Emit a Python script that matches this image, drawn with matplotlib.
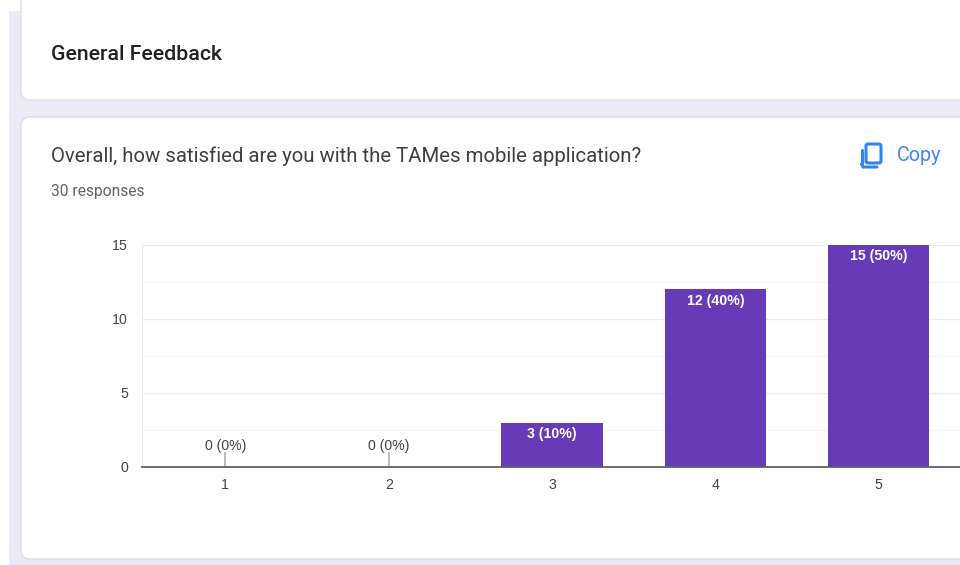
import matplotlib
matplotlib.use('Agg')
import matplotlib.pyplot as plt
from matplotlib.patches import FancyBboxPatch, Rectangle

categories = ['1', '2', '3', '4', '5']
counts = [0, 0, 3, 12, 15]
percents = [0, 0, 10, 40, 50]
yticks = [0, 5, 10, 15]
yticks_minor = [2.5, 7.5, 12.5]

W, H = 960, 565
PAGE = '#ede9f6'
BORDER = '#dfdde8'
PURPLE = '#673ab7'
CHART_FONT = ['Liberation Sans', 'DejaVu Sans']

plt.rcParams['font.family'] = ['Roboto', 'DejaVu Sans']

fig = plt.figure(figsize=(W / 100, H / 100), dpi=100, facecolor='white')

# page layer, in pixels from the top left
bg = fig.add_axes([0, 0, 1, 1], zorder=0)
bg.set_xlim(0, W)
bg.set_ylim(H, 0)
bg.axis('off')
bg.add_patch(Rectangle((9, 11), W - 9, H - 11, fc=PAGE, ec='none'))


def card(y0, y1):
    bg.add_patch(FancyBboxPatch((21, y0), W + 40, y1 - y0,
                                boxstyle='round,pad=0,rounding_size=9',
                                fc='white', ec=BORDER, lw=1))


card(-20, 100)
card(117, 559)

fig.text(51 / W, 1 - 54.5 / H, 'General Feedback', fontsize=15.3, color='#202124',
         fontweight='medium', va='center')
fig.text(51 / W, 1 - 156.5 / H, 'Overall, how satisfied are you with the TAMes mobile application?',
         fontsize=14.68, color='#3c4043', va='center')
fig.text(51 / W, 1 - 191.5 / H, '30 responses', fontsize=11.2, color='#5f6368', va='center')
fig.text(897 / W, 1 - 156 / H, 'Copy', fontsize=14.2, color='#4285f4', va='center')

# copy icon
BLUE = '#2f86f0'
bg.add_patch(FancyBboxPatch((866, 144), 15, 19, boxstyle='round,pad=0,rounding_size=2',
                            fc='white', ec=BLUE, lw=2.2, zorder=3))
bg.plot([861.5, 861.5], [150, 164], color=BLUE, lw=2.2, solid_capstyle='round', zorder=3)
bg.plot([861.5, 863, 877], [164, 167, 167], color=BLUE, lw=2.2, solid_capstyle='round', zorder=3)

# chart
ax = fig.add_axes([142 / W, 1 - 467 / H, (W - 142) / W, (467 - 245) / H], zorder=1)
ax.patch.set_alpha(0)
x = list(range(1, len(categories) + 1))
ax.set_xlim(0.49, 5.497)
ax.set_ylim(0, 15)
ax.bar(x, counts, width=0.62, color=PURPLE, zorder=3)

ax.set_xticks(x, categories)
ax.set_yticks(yticks)
ax.set_yticks(yticks_minor, minor=True)
ax.grid(True, axis='y', which='major', color='#ebebeb', lw=1, zorder=0)
ax.grid(True, axis='y', which='minor', color='#f6f6f6', lw=1, zorder=0)
ax.tick_params(axis='both', which='both', length=0)
ax.tick_params(axis='x', pad=8, labelsize=10.2, labelcolor='#444444')
ax.tick_params(axis='y', pad=10, labelsize=10.2, labelcolor='#444444')
for lab in ax.get_xticklabels() + ax.get_yticklabels():
    lab.set_family(CHART_FONT)
for s in ['top', 'right']:
    ax.spines[s].set_visible(False)
ax.spines['left'].set_color('#ebebeb')
ax.spines['bottom'].set_color('#5f5f66')
ax.spines['bottom'].set_linewidth(1.3)
ax.spines['bottom'].set_zorder(5)

for xi, c, p in zip(x, counts, percents):
    label = f'{c} ({p}%)'
    if c == 0:
        # empty categories get a small stem with the label above it
        ax.plot([xi, xi], [0, 0.95], color='#b5b5b5', lw=1.3, zorder=4, clip_on=False)
        ax.text(xi, 1.43, label, ha='center', va='center', fontsize=10.2, color='#444444',
                family=CHART_FONT)
    else:
        ax.text(xi, c - 0.76, label, ha='center', va='center', fontsize=10.2,
                color='white', fontweight='bold', family=CHART_FONT, zorder=6)

fig.savefig('out.png', dpi=100)
